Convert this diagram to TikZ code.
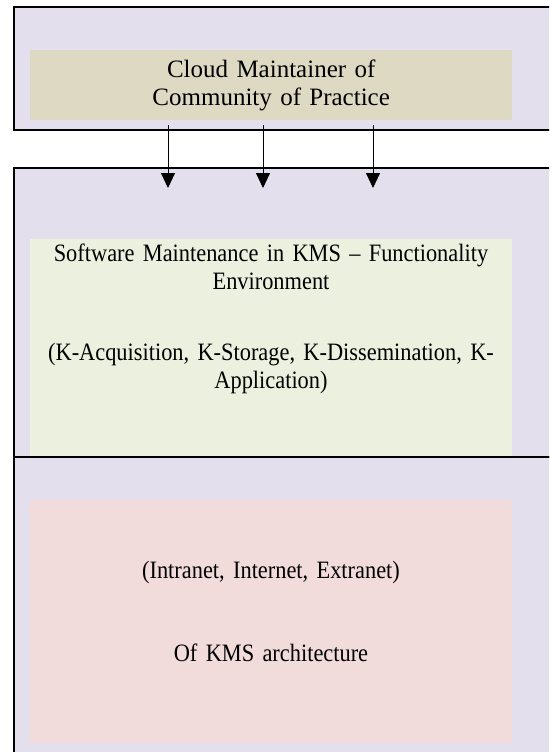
\documentclass[tikz,border=0pt]{standalone}
\usepackage{fontspec}
\setmainfont{Liberation Serif}
\newfontfamily\narrowserif[FakeStretch=0.895, WordSpace=0.75, Ligatures=TeX]{Liberation Serif}
\usetikzlibrary{arrows.meta}
\definecolor{lavender}{HTML}{E4DFEC}
\definecolor{tanfill}{HTML}{DDD9C3}
\definecolor{greenfill}{HTML}{EBF1DE}
\definecolor{pinkfill}{HTML}{F2DCDB}
\tikzset{
  layer/.style={draw=black, line width=1.3pt, fill=lavender},
  panel/.style={draw=none, inner sep=0pt, minimum width=482pt, align=center,
    font=\fontsize{25}{28.5}\selectfont, text width=470pt},
  label/.style={panel, font=\narrowserif\fontsize{25}{28}\selectfont},
  flow/.style={line width=1pt, -{Triangle[width=14pt,length=15pt]}}
}
\begin{document}
\begin{tikzpicture}[x=1pt,y=-1pt]
\useasboundingbox (0,0) rectangle (549,752);
\clip (0,0) rectangle (549,752);
\fill[white] (0,0) rectangle (549,752);
% outer layers (running off the right and bottom edges)
\draw[layer] (14,7) rectangle (570,130);
\draw[layer] (14,168) rectangle (570,457);
% inner panels
\node[panel, fill=tanfill, minimum height=70pt, anchor=north west] (cloud) at (30,50)
  {Cloud Maintainer of\\Community of Practice};
\node[panel, fill=greenfill, minimum height=218pt, anchor=north west] (sm) at (30,239) {};
\draw[layer] (14,457) rectangle (570,800);
\node[panel, fill=pinkfill, minimum height=243pt, anchor=north west] (net) at (30,500) {};
% texts in the lower panels
\node[label, anchor=base] (smt) at (271,261.5)
  {Software Maintenance in KMS – Functionality\\Environment};
\node[label, anchor=base] (kt) at (271,360.5)
  {(K-Acquisition, K-Storage, K-Dissemination, K-\\Application)};
\node[label, anchor=base] (nt1) at (271,578.5) {(Intranet, Internet, Extranet)};
\node[label, anchor=base] (nt2) at (271,661.5) {Of KMS architecture};
% arrows from the cloud maintainer down into the functionality layer
\foreach \i/\x in {1/168,2/263,3/373}{
  \coordinate (s\i) at (\x,125);
  \coordinate (e\i) at (\x,188);
  \draw[flow] (s\i) -- (e\i);
}
\end{tikzpicture}
\end{document}
